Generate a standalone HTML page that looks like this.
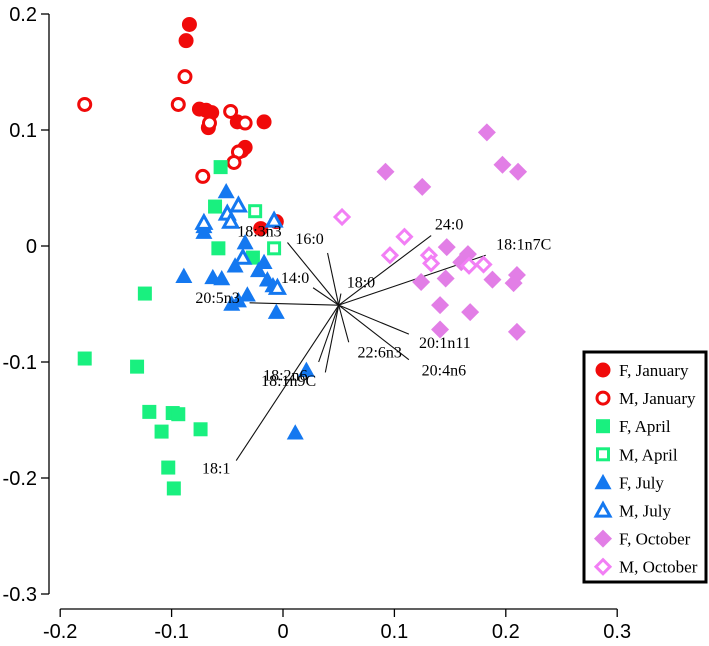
<!DOCTYPE html>
<html><head><meta charset="utf-8">
<style>
html,body{margin:0;padding:0;background:#fff;}
svg{display:block;}
.tk{font-family:"Liberation Sans",sans-serif;font-size:20px;fill:#000;}
.ld{font-family:"Liberation Serif",serif;font-size:16px;fill:#000;}
.lg{font-family:"Liberation Serif",serif;font-size:17px;fill:#000;}
</style></head>
<body>
<svg id="chart" width="709" height="646" viewBox="0 0 709 646" xmlns="http://www.w3.org/2000/svg">
<g id="axes"></g>
<g id="loadings"></g>
<g id="points"></g>
<g id="legend"></g>
</svg>
<script>
const xTicks = [-0.2, -0.1, 0, 0.1, 0.2, 0.3];
const xTickLabels = ["-0.2", "-0.1", "0", "0.1", "0.2", "0.3"];
const yTicks = [0.2, 0.1, 0, -0.1, -0.2, -0.3];
const yTickLabels = ["0.2", "0.1", "0", "-0.1", "-0.2", "-0.3"];

const fJanuary = [[-0.084,0.191],[-0.087,0.177],[-0.075,0.118],[-0.069,0.117],[-0.064,0.115],[-0.067,0.102],[-0.041,0.107],[-0.017,0.107],[-0.034,0.085],[-0.037,0.082],[-0.006,0.021],[-0.020,0.015]];
const mJanuary = [[-0.178,0.122],[-0.088,0.146],[-0.094,0.122],[-0.047,0.116],[-0.034,0.106],[-0.066,0.106],[-0.040,0.081],[-0.044,0.072],[-0.072,0.060]];
const fApril = [[-0.056,0.068],[-0.061,0.034],[-0.058,-0.002],[-0.027,-0.010],[-0.124,-0.041],[-0.178,-0.097],[-0.131,-0.104],[-0.120,-0.143],[-0.099,-0.144],[-0.094,-0.145],[-0.109,-0.160],[-0.074,-0.158],[-0.103,-0.191],[-0.098,-0.209]];
const mApril = [[-0.025,0.030],[-0.008,-0.002]];
const fJuly = [[-0.051,0.047],[-0.071,0.017],[-0.071,0.012],[-0.034,0.003],[-0.043,-0.017],[-0.017,-0.014],[-0.022,-0.021],[-0.089,-0.026],[-0.063,-0.027],[-0.055,-0.028],[-0.014,-0.029],[-0.009,-0.034],[-0.032,-0.042],[-0.046,-0.050],[-0.040,-0.047],[-0.006,-0.057],[0.021,-0.107],[0.011,-0.161]];
const mJuly = [[-0.040,0.035],[-0.050,0.028],[-0.047,0.021],[-0.036,-0.010],[-0.005,-0.036],[-0.008,0.022],[-0.071,0.020]];
const fOctober = [[0.183,0.098],[0.197,0.070],[0.211,0.064],[0.092,0.064],[0.125,0.051],[0.147,-0.001],[0.166,-0.007],[0.160,-0.014],[0.124,-0.031],[0.146,-0.028],[0.188,-0.029],[0.210,-0.025],[0.207,-0.032],[0.141,-0.051],[0.168,-0.057],[0.141,-0.072],[0.210,-0.074]];
const mOctober = [[0.053,0.025],[0.109,0.008],[0.096,-0.008],[0.131,-0.008],[0.133,-0.015],[0.167,-0.017],[0.180,-0.016]];

const loadingCenter = [0.050, -0.051];
const loadingNames = ["18:3n3","16:0","14:0","18:0","20:5n3","24:0","18:1n7C","20:1n11","20:4n6","22:6n3","18:2n6","18:1n9C","18:1"];
const loadingEnds = [[0.004,0.003],[0.040,-0.006],[0.027,-0.036],[0.052,-0.041],[-0.030,-0.049],[0.133,0.009],[0.182,-0.008],[0.113,-0.076],[0.113,-0.098],[0.059,-0.083],[0.038,-0.109],[0.032,-0.100],[-0.042,-0.185]];
const legendLabels = ["F, January","M, January","F, April","M, April","F, July","M, July","F, October","M, October"];

const NS = "http://www.w3.org/2000/svg";
function sx(v){ return 283 + 1114*v; }
function sy(v){ return 246 - 1160*v; }
function mk(tag, attrs, parent){
  const e = document.createElementNS(NS, tag);
  for (const k in attrs) e.setAttribute(k, attrs[k]);
  parent.appendChild(e);
  return e;
}
const axes = document.getElementById('axes');
const xl = mk('line', {x1:sx(-0.2), y1:609, x2:sx(0.3), y2:609, stroke:'#000','stroke-width':1.3}, axes);


xTicks.forEach((t,i)=>{
  const tk = mk('line', {x1:sx(t), y1:609, x2:sx(t), y2:617, stroke:'#000','stroke-width':1.3}, axes);
  
  
  const tx = mk('text', {x:sx(t), y:638, 'text-anchor':'middle', class:'tk'}, axes);
  tx.textContent = xTickLabels[i];
  
  
});
const yl = mk('line', {x1:49, y1:sy(0.2), x2:49, y2:sy(-0.3), stroke:'#000','stroke-width':1.3}, axes);


yTicks.forEach((t,i)=>{
  const tk = mk('line', {x1:41, y1:sy(t), x2:49, y2:sy(t), stroke:'#000','stroke-width':1.3}, axes);
  
  
  const tx = mk('text', {x:37, y:sy(t)+7, 'text-anchor':'end', class:'tk'}, axes);
  tx.textContent = yTickLabels[i];
  
  
});

function drawMarker(parent, shape, filled, color, cx, cy){
  let e;
  const fill = filled ? color : '#fff';
  const sw = filled ? 0 : 3;
  if (shape === 'circle') {
    e = mk('circle', {cx:cx, cy:cy, r: filled?7.5:6, fill:fill, stroke:color, 'stroke-width':sw}, parent);
  } else if (shape === 'square') {
    const s = filled?14:11;
    e = mk('rect', {x:cx-s/2, y:cy-s/2, width:s, height:s, fill:fill, stroke:color, 'stroke-width':sw}, parent);
  } else if (shape === 'triangle') {
    const h = filled?8.5:7;
    e = mk('polygon', {points:`${cx},${cy-h} ${cx+h},${cy+h*0.8} ${cx-h},${cy+h*0.8}`, fill:fill, stroke:color, 'stroke-width':sw}, parent);
  } else {
    const h = filled?9:7;
    e = mk('polygon', {points:`${cx},${cy-h} ${cx+h},${cy} ${cx},${cy+h} ${cx-h},${cy}`, fill:fill, stroke:color, 'stroke-width':sw}, parent);
  }
  return e;
}
const groups = [
  {d:fJanuary, s:'circle', f:true, c:'#f00a0a', n:'f-january'},
  {d:mJanuary, s:'circle', f:false, c:'#f00a0a', n:'m-january'},
  {d:fApril, s:'square', f:true, c:'#19f07f', n:'f-april'},
  {d:mApril, s:'square', f:false, c:'#19f07f', n:'m-april'},
  {d:fJuly, s:'triangle', f:true, c:'#1478f0', n:'f-july'},
  {d:mJuly, s:'triangle', f:false, c:'#1478f0', n:'m-july'},
  {d:fOctober, s:'diamond', f:true, c:'#e27ee6', n:'f-october'},
  {d:mOctober, s:'diamond', f:false, c:'#f27ff5', n:'m-october'}
];
const pts = document.getElementById('points');
groups.forEach(g=>{
  g.d.forEach(p=>{
    const e = drawMarker(pts, g.s, g.f, g.c, sx(p[0]), sy(p[1]));
    
    
  });
});

const ld = document.getElementById('loadings');
const labelOffsets = [[-28,-6],[-18,-9],[-18,-5],[20,-6],[-32,0],[18,-6],[38,-6],[36,14],[35,16],[31,15],[-40,8],[-30,24],[-20,13]];
const cx0 = sx(loadingCenter[0]), cy0 = sy(loadingCenter[1]);
loadingNames.forEach((nm,i)=>{
  const e = loadingEnds[i];
  const l = mk('line', {x1:cx0, y1:cy0, x2:sx(e[0]), y2:sy(e[1]), stroke:'#111','stroke-width':1.1}, ld);
  
  
  const t = mk('text', {x:sx(e[0])+labelOffsets[i][0], y:sy(e[1])+labelOffsets[i][1], 'text-anchor':'middle', class:'ld'}, ld);
  t.textContent = nm;
  
  
});
const ldLabels = ld.querySelectorAll('text');
const svg = document.getElementById('chart');
const topG = mk('g', {}, svg);


ldLabels.forEach(t=>topG.appendChild(t));

const lgG = document.getElementById('legend');
svg.appendChild(lgG);
const box = mk('rect', {x:584, y:352, width:122, height:230, fill:'#fff', stroke:'#000', 'stroke-width':3}, lgG);


legendLabels.forEach((lab,i)=>{
  const g = groups[i];
  const y = 370 + i*28.1;
  const m = drawMarker(lgG, g.s, g.f, g.c, 603, y);
  
  
  const t = mk('text', {x:619, y:y+6, class:'lg'}, lgG);
  t.textContent = lab;
  
  
});
</script>
</body></html>
